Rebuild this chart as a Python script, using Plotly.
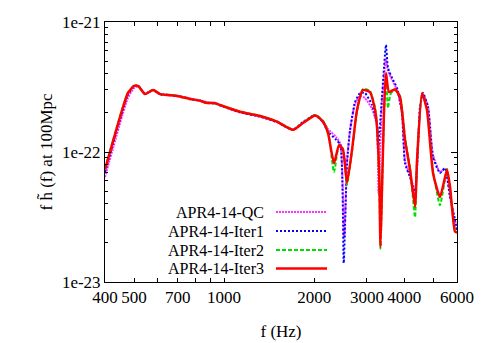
import plotly.graph_objects as go

# Frequencies (Hz) and amplitudes (units of 1e-22)
f_qc = [400, 477, 500, 516, 544, 579, 611, 696, 769, 831, 877, 932, 969, 1130, 1318, 1502, 1699, 1835, 1997, 2044,
        2140, 2224, 2370, 2448, 2520, 2574, 2635, 2738, 2844, 2956, 3120, 3242, 3280, 3369, 3474, 3528, 3640, 3782,
        3930, 4022, 4180, 4345, 4515, 4620, 4800, 4989, 5265, 5471, 5686, 5907, 6000]
h_qc = [0.64, 2.60, 3.10, 3.20, 2.80, 3.00, 2.80, 2.72, 2.58, 2.50, 2.42, 2.38, 2.30, 2.02, 1.88, 1.70, 1.48, 1.68,
        1.90, 1.88, 1.72, 1.50, 1.30, 1.15, 0.22, 0.85, 1.45, 2.35, 2.70, 2.60, 2.15, 1.60, 0.48, 2.40, 5.20, 4.20,
        3.60, 3.00, 2.00, 0.85, 0.66, 0.50, 2.20, 2.80, 2.25, 0.95, 0.70, 0.75, 0.46, 0.30, 0.25]

f_iter1 = [400, 477, 500, 516, 544, 579, 611, 696, 769, 831, 877, 932, 969, 1130, 1318, 1502, 1699, 1835, 1997, 2044,
           2140, 2224, 2370, 2448, 2510, 2574, 2635, 2738, 2844, 2956, 3120, 3242, 3267, 3369, 3474, 3528, 3640, 3782,
           3930, 4022, 4180, 4345, 4515, 4620, 4800, 4989, 5265, 5471, 5686, 5907, 6000]
h_iter1 = [0.70, 2.75, 3.20, 3.24, 2.80, 3.00, 2.78, 2.70, 2.55, 2.48, 2.38, 2.36, 2.28, 2.02, 1.87, 1.70, 1.48, 1.70,
           1.92, 1.88, 1.70, 1.43, 1.24, 1.13, 0.14, 0.82, 1.48, 2.42, 2.84, 2.84, 2.30, 1.67, 1.04, 2.65, 6.65, 4.43,
           3.71, 3.11, 2.00, 0.82, 0.64, 0.48, 2.22, 2.84, 2.22, 0.915, 0.69, 0.75, 0.45, 0.30, 0.25]

f_iter2 = [400, 477, 500, 516, 544, 579, 611, 696, 769, 831, 877, 932, 969, 1130, 1318, 1502, 1699, 1835, 1997, 2044,
           2140, 2224, 2329, 2420, 2496, 2574, 2676, 2780, 2911, 3072, 3193, 3242, 3300, 3330, 3369, 3421, 3474, 3528,
           3600, 3724, 3870, 4022, 4180, 4345, 4412, 4585, 4763, 4989, 5265, 5557, 5686, 5907, 6000]
h_iter2 = [0.74, 2.86, 3.22, 3.20, 2.80, 3.00, 2.80, 2.72, 2.57, 2.48, 2.40, 2.36, 2.30, 2.05, 1.90, 1.72, 1.49, 1.68,
           1.92, 1.90, 1.74, 1.45, 0.70, 1.12, 1.06, 0.56, 1.02, 2.05, 3.05, 2.95, 2.20, 1.65, 0.55, 0.18, 0.48, 1.90,
           3.90, 2.18, 2.80, 3.00, 2.70, 1.30, 0.75, 0.315, 0.85, 2.80, 2.15, 0.72, 0.39, 0.74, 0.52, 0.25, 0.24]

f_iter3 = [400, 477, 500, 516, 544, 579, 611, 696, 769, 831, 877, 932, 969, 1130, 1318, 1502, 1699, 1835, 1997, 2044,
           2140, 2224, 2329, 2420, 2496, 2574, 2676, 2780, 2911, 3072, 3193, 3242, 3300, 3330, 3369, 3421, 3474, 3556,
           3724, 3870, 4022, 4180, 4345, 4412, 4585, 4763, 4989, 5265, 5557, 5686, 5907, 6000]
h_iter3 = [0.73, 2.84, 3.22, 3.22, 2.79, 3.00, 2.79, 2.70, 2.56, 2.48, 2.38, 2.38, 2.30, 2.04, 1.89, 1.71, 1.48, 1.67,
           1.90, 1.89, 1.71, 1.40, 0.82, 1.13, 1.04, 0.58, 1.04, 2.10, 3.00, 2.89, 2.10, 1.56, 0.64, 0.186, 0.51, 2.00,
           4.05, 2.89, 3.04, 2.65, 1.24, 0.73, 0.38, 0.87, 2.84, 2.10, 0.69, 0.45, 0.73, 0.54, 0.244, 0.24]

UNIT = 1e-22
series_names = ["APR4-14-QC", "APR4-14-Iter1", "APR4-14-Iter2", "APR4-14-Iter3"]
x_tick_vals = [400, 500, 600, 700, 800, 900, 1000, 2000, 3000, 4000, 5000, 6000]
x_tick_text = ["400", "500", "", "700", "", "", "1000", "2000", "3000", "4000", "", "6000"]
y_tick_vals = [1e-23, 1e-22, 1e-21]
y_tick_text = ["1e-23", "1e-22", "1e-21"]
y_minor_vals = [m * 1e-23 for m in range(2, 10)] + [m * 1e-22 for m in range(2, 10)]

styles = [
    dict(color="#ff33ff", width=2, dash="2px,1px"),
    dict(color="#0000ff", width=2, dash="2px,2px"),
    dict(color="#00dd00", width=2, dash="4px,2px"),
    dict(color="#ff0000", width=2.5, dash="solid"),
]
data = [(f_qc, h_qc), (f_iter1, h_iter1), (f_iter2, h_iter2), (f_iter3, h_iter3)]

FONT = "Liberation Serif"
FS = 17
fig = go.Figure()
for name, (fx, hy), st in zip(series_names, data, styles):
    fig.add_trace(go.Scatter(x=fx, y=[v * UNIT for v in hy], mode="lines", name=name,
                             line=dict(shape="spline", smoothing=0.5, **st), showlegend=False))

# gnuplot-style legend: text right-aligned, sample line to the right
legend_y = [0.2692, 0.196, 0.123, 0.052]
for name, st, ly in zip(series_names, styles, legend_y):
    fig.add_annotation(x=0.4545, y=ly, xref="paper", yref="paper", text=name, showarrow=False,
                       xanchor="right", yanchor="middle", borderpad=0,
                       font=dict(family=FONT, size=16, color="black"))
    fig.add_shape(type="line", xref="paper", yref="paper", x0=0.4858, x1=0.6307, y0=ly, y1=ly,
                  line=dict(color=st["color"], width=st["width"], dash=st["dash"]))

fig.update_layout(
    width=483, height=335,
    margin=dict(l=97, r=34, t=14, b=61),
    paper_bgcolor="white", plot_bgcolor="white",
    font=dict(family=FONT, size=FS, color="black"),
    xaxis=dict(type="log", range=[2.60206, 3.778151], showgrid=False, zeroline=False, automargin=False,
               tickmode="array", tickvals=x_tick_vals, ticktext=x_tick_text,
               ticks="inside", ticklen=4, tickcolor="black", showline=True, linecolor="black",
               linewidth=1, mirror="ticks",
               title=dict(text="f (Hz)", standoff=18, font=dict(family=FONT, size=FS))),
    yaxis=dict(type="log", range=[-23, -21], showgrid=False, zeroline=False, automargin=False,
               tickmode="array", tickvals=y_tick_vals, ticktext=y_tick_text,
               ticks="inside", ticklen=6, tickcolor="black", showline=True, linecolor="black",
               linewidth=1, mirror="ticks",
               minor=dict(tickvals=y_minor_vals, ticks="inside", ticklen=3, tickcolor="black"),
               title=dict(text="f h\u0303 (f) at 100Mpc", standoff=4, font=dict(family=FONT, size=FS))),
)
fig.write_html("out.html")
